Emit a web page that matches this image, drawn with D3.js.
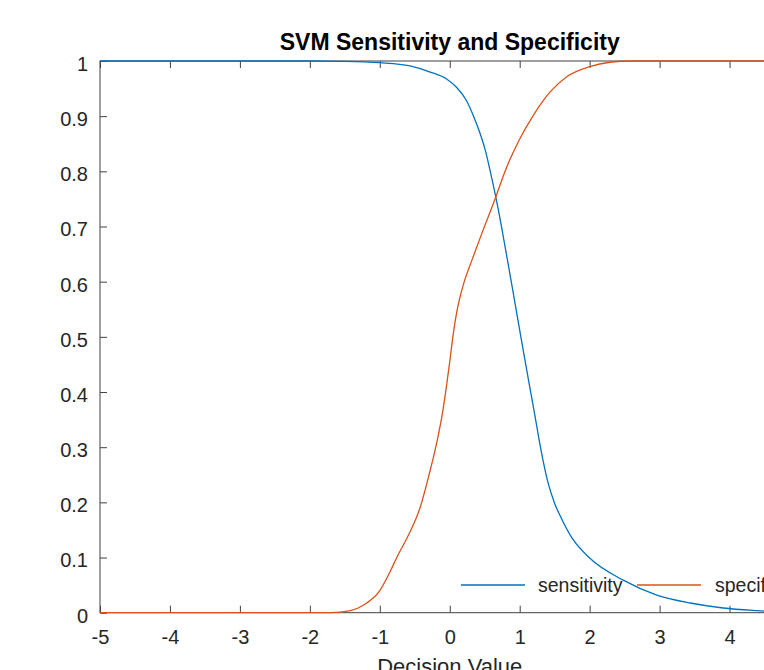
<!DOCTYPE html>
<html>
<head>
<meta charset="utf-8">
<script src="https://cdn.jsdelivr.net/npm/d3@7"></script>
<style>
  html, body { margin: 0; padding: 0; background: #fff; }
  svg { display: block; font-family: "Liberation Sans", Arial, Helvetica, sans-serif; }
</style>
</head>
<body>
<svg id="chart" width="764" height="670"></svg>
<script>
// ---- data ----
const sensX = [-5, -2.0, -1.5, -1.0, -0.57, -0.28, -0.04, 0.1, 0.24, 0.34, 0.43, 0.5, 0.6, 0.7, 0.8, 0.9, 1.0, 1.1, 1.2, 1.3, 1.4, 1.5, 1.6, 1.75, 2.0, 2.48, 2.96, 3.44, 3.91, 4.39, 4.8, 5];
const sensY = [1, 1, 0.9995, 0.997, 0.991, 0.980, 0.967, 0.952, 0.928, 0.900, 0.870, 0.842, 0.788, 0.727, 0.657, 0.585, 0.512, 0.440, 0.370, 0.298, 0.238, 0.198, 0.170, 0.135, 0.099, 0.059, 0.032, 0.0176, 0.0085, 0.0036, 0.0008, 0];
const specX = [-5, -1.7, -1.42, -1.23, -1.0, -0.85, -0.75, -0.6, -0.42, -0.3, -0.2, -0.1, 0, 0.05, 0.1, 0.15, 0.2, 0.32, 0.46, 0.625, 0.815, 1.006, 1.197, 1.435, 1.673, 2.0, 2.29, 2.6, 5];
const specY = [0, 0, 0.0036, 0.014, 0.040, 0.075, 0.102, 0.138, 0.192, 0.248, 0.300, 0.365, 0.455, 0.505, 0.545, 0.574, 0.597, 0.640, 0.688, 0.742, 0.808, 0.860, 0.902, 0.944, 0.9716, 0.9897, 0.9977, 1, 1];
const xTicks = [-5, -4, -3, -2, -1, 0, 1, 2, 3, 4, 5];
const xTickLabels = ["-5", "-4", "-3", "-2", "-1", "0", "1", "2", "3", "4", "5"];
const yTicks = [0, 0.1, 0.2, 0.3, 0.4, 0.5, 0.6, 0.7, 0.8, 0.9, 1];
const yTickLabels = ["0", "0.1", "0.2", "0.3", "0.4", "0.5", "0.6", "0.7", "0.8", "0.9", "1"];
const seriesNames = ["sensitivity", "specificity"];
const seriesColors = ["#0072BD", "#D95319"];
const titleText = "SVM Sensitivity and Specificity";
const xLabelText = "Decision Value";

// ---- layout ----
const mLeft = 100, mTop = 61, mRight = 799.5, mBottom = 612.7;
const svg = d3.select("#chart");
const x = d3.scaleLinear().domain([-5, 5]).range([mLeft, mRight]);
const y = d3.scaleLinear().domain([0, 1]).range([mBottom, mTop]);
const axisColor = "#404040";
const textColor = "#262626";

// box lines
svg.append("rect").attr("x", mLeft).attr("y", mTop).attr("width", mRight - mLeft).attr("height", mBottom - mTop)
  .attr("fill", "none").attr("stroke", axisColor).attr("stroke-width", 1);

function styleAxis(g, showText) {
  g.select(".domain").remove();
  g.selectAll(".tick line").attr("stroke", axisColor).attr("stroke-width", 1);
  g.selectAll(".tick text").attr("fill", textColor).style("font-size", "20px")
    .style("font-family", "'Liberation Sans', Arial, Helvetica, sans-serif");
  if (!showText) g.selectAll(".tick text").remove();
}

const xAxis = d3.axisBottom(x).tickValues(xTicks).tickFormat((d, i) => xTickLabels[i])
  .tickSizeInner(-7).tickSizeOuter(0).tickPadding(17);
svg.append("g").attr("transform", `translate(0,${mBottom})`).call(xAxis).call(g => styleAxis(g, true));

const xAxisTop = d3.axisTop(x).tickValues(xTicks).tickSizeInner(-7).tickSizeOuter(0);
svg.append("g").attr("transform", `translate(0,${mTop})`).call(xAxisTop).call(g => styleAxis(g, false));

const yAxis = d3.axisLeft(y).tickValues(yTicks).tickFormat((d, i) => yTickLabels[i])
  .tickSizeInner(-7).tickSizeOuter(0).tickPadding(12);
const gy = svg.append("g").attr("transform", `translate(${mLeft},0)`).call(yAxis).call(g => styleAxis(g, true));
gy.selectAll(".tick text").attr("dy", "0.47em");

const yAxisRight = d3.axisRight(y).tickValues(yTicks).tickSizeInner(-7).tickSizeOuter(0);
svg.append("g").attr("transform", `translate(${mRight},0)`).call(yAxisRight).call(g => styleAxis(g, false));

// lines
const line = d3.line().x(d => x(d[0])).y(d => y(d[1])).curve(d3.curveMonotoneX);
const sensData = sensX.map((v, i) => [v, sensY[i]]);
const specData = specX.map((v, i) => [v, specY[i]]);
[sensData, specData].forEach((data, i) => {
  svg.append("path").datum(data).attr("d", line)
    .attr("fill", "none").attr("stroke", seriesColors[i]).attr("stroke-width", 1.3)
    .attr("stroke-linejoin", "round");
});

// legend (horizontal, no box)
const legendY = 585;
const legendItems = [{ x0: 461, x1: 525, tx: 538 }, { x0: 637, x1: 701, tx: 715 }];
legendItems.forEach((it, i) => {
  svg.append("line").attr("x1", it.x0).attr("x2", it.x1).attr("y1", legendY).attr("y2", legendY)
    .attr("stroke", seriesColors[i]).attr("stroke-width", 1.3);
  svg.append("text").attr("x", it.tx).attr("y", legendY).attr("dy", "0.35em")
    .attr("fill", textColor).style("font-size", "19.5px").text(seriesNames[i]);
});

// title
svg.append("text").attr("x", (mLeft + mRight) / 2).attr("y", 50).attr("text-anchor", "middle")
  .attr("fill", "#000").style("font-size", "23px").style("font-weight", "bold").text(titleText);

// x label
svg.append("text").attr("x", (mLeft + mRight) / 2).attr("y", 674).attr("text-anchor", "middle")
  .attr("fill", textColor).style("font-size", "22px").text(xLabelText);
</script>
</body>
</html>
